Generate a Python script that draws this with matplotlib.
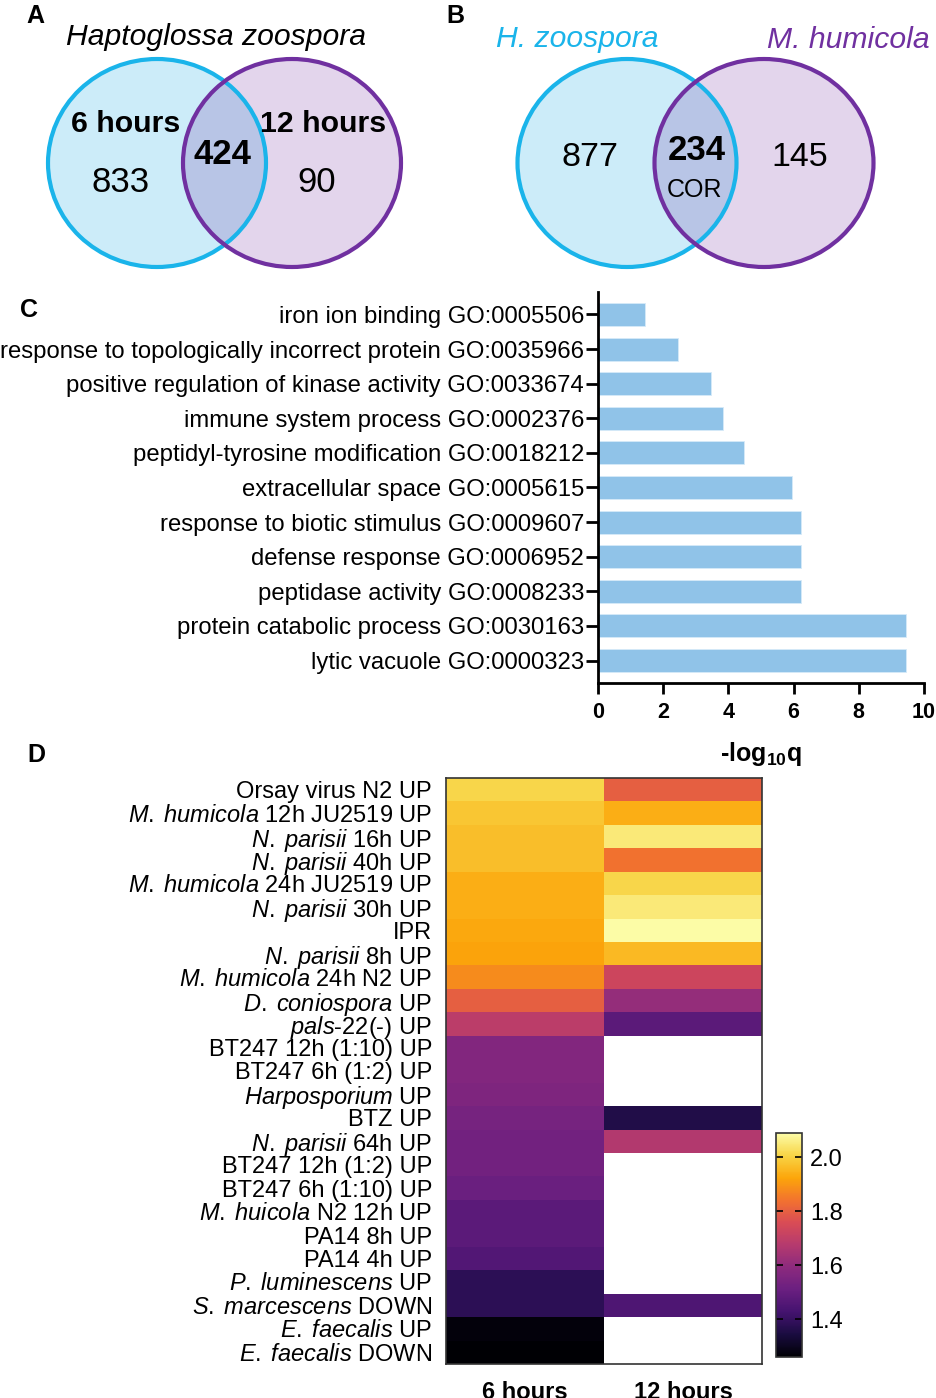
import numpy as np
import matplotlib
matplotlib.use('Agg')
import matplotlib.pyplot as plt
from matplotlib.patches import Ellipse
from matplotlib.colors import LinearSegmentedColormap

plt.rcParams['font.family'] = ['Liberation Sans', 'DejaVu Sans']
plt.rcParams['mathtext.fontset'] = 'custom'
plt.rcParams['mathtext.rm'] = 'Liberation Sans'
plt.rcParams['mathtext.it'] = 'Liberation Sans:italic'
plt.rcParams['mathtext.bf'] = 'Liberation Sans:bold'

# ---------------- data ----------------
venn_a_title = 'Haptoglossa zoospora'
venn_a_sets = ['6 hours', '12 hours']
venn_a_counts = [833, 424, 90]          # only 6h, both, only 12h

venn_b_sets = ['H. zoospora', 'M. humicola']
venn_b_counts = [877, 234, 145]         # only Hz, both (COR), only Mh
venn_b_overlap_name = 'COR'

go_terms = [
    'iron ion binding GO:0005506',
    'response to topologically incorrect protein GO:0035966',
    'positive regulation of kinase activity GO:0033674',
    'immune system process GO:0002376',
    'peptidyl-tyrosine modification GO:0018212',
    'extracellular space GO:0005615',
    'response to biotic stimulus GO:0009607',
    'defense response GO:0006952',
    'peptidase activity GO:0008233',
    'protein catabolic process GO:0030163',
    'lytic vacuole GO:0000323',
]
go_values = [1.43, 2.46, 3.46, 3.82, 4.49, 5.94, 6.22, 6.22, 6.22, 9.45, 9.45]

heat_rows = [
    r'Orsay virus N2 UP',
    r'$\mathit{M.\;humicola}$ 12h JU2519 UP',
    r'$\mathit{N.\;parisii}$ 16h UP',
    r'$\mathit{N.\;parisii}$ 40h UP',
    r'$\mathit{M.\;humicola}$ 24h JU2519 UP',
    r'$\mathit{N.\;parisii}$ 30h UP',
    r'IPR',
    r'$\mathit{N.\;parisii}$ 8h UP',
    r'$\mathit{M.\;humicola}$ 24h N2 UP',
    r'$\mathit{D.\;coniospora}$ UP',
    '$\\mathit{pals\u201022(\u2010)}$ UP',
    r'BT247 12h (1:10) UP',
    r'BT247 6h (1:2) UP',
    r'$\mathit{Harposporium}$ UP',
    r'BTZ UP',
    r'$\mathit{N.\;parisii}$ 64h UP',
    r'BT247 12h (1:2) UP',
    r'BT247 6h (1:10) UP',
    r'$\mathit{M.\;huicola}$ N2 12h UP',
    r'PA14 8h UP',
    r'PA14 4h UP',
    r'$\mathit{P.\;luminescens}$ UP',
    r'$\mathit{S.\;marcescens}$ DOWN',
    r'$\mathit{E.\;faecalis}$ UP',
    r'$\mathit{E.\;faecalis}$ DOWN',
]
heat_cols = ['6 hours', '12 hours']
heat_6h = [2.01, 1.98, 1.97, 1.97, 1.94, 1.94, 1.93, 1.92, 1.88, 1.80, 1.69,
           1.57, 1.57, 1.56, 1.54, 1.53, 1.53, 1.51, 1.48, 1.48, 1.46, 1.38,
           1.38, 1.27, 1.26]
heat_12h = [1.80, 1.94, 2.05, 1.84, 2.01, 2.05, 2.09, 1.96, 1.73, 1.61, 1.48,
            np.nan, np.nan, np.nan, 1.36, 1.67, np.nan, np.nan, np.nan, np.nan,
            np.nan, np.nan, 1.45, np.nan, np.nan]
heat_vmin, heat_vmax = 1.26, 2.09
cbar_ticks = [1.4, 1.6, 1.8, 2.0]

# ---------------- figure ----------------
W, H = 937, 1398
fig = plt.figure(figsize=(W / 100, H / 100), dpi=100)


def box(x0, y0, x1, y1):
    return [x0 / W, 1 - y1 / H, (x1 - x0) / W, (y1 - y0) / H]


def ftext(x, y, s, **kw):
    fig.text(x / W, 1 - y / H, s, ha='center', va='center', **kw)


CYAN = '#1ab4ea'
PURPLE = '#7030a0'
FILL_L = '#ccecf9'
FILL_R = '#e3d5ec'
FILL_O = '#b8c5e6'

# ---------------- Venn diagrams ----------------
axv = fig.add_axes(box(0, 0, W, 285))
axv.set_xlim(0, W)
axv.set_ylim(285, 0)
axv.axis('off')


def venn(cl, cr, w, h):
    axv.add_patch(Ellipse(cl, w, h, facecolor=FILL_L, edgecolor='none'))
    axv.add_patch(Ellipse(cr, w, h, facecolor=FILL_R, edgecolor='none'))
    clip = Ellipse(cr, w, h, facecolor='none', edgecolor='none')
    axv.add_patch(clip)
    ov = Ellipse(cl, w, h, facecolor=FILL_O, edgecolor='none')
    axv.add_patch(ov)
    ov.set_clip_path(clip)
    axv.add_patch(Ellipse(cl, w, h, facecolor='none', edgecolor=CYAN, lw=3))
    axv.add_patch(Ellipse(cr, w, h, facecolor='none', edgecolor=PURPLE, lw=3))


venn((157, 163), (292, 163), 218, 208)
venn((627, 163), (764, 163), 219, 208)

kw = dict(ha='center', va='center')
axv.text(216, 37, venn_a_title, style='italic', fontsize=21.7, **kw)
axv.text(126, 124, venn_a_sets[0], fontweight='bold', fontsize=21.8, **kw)
axv.text(323, 124, venn_a_sets[1], fontweight='bold', fontsize=21.8, **kw)
axv.text(121, 182, str(venn_a_counts[0]), fontsize=25, **kw)
axv.text(222, 155, str(venn_a_counts[1]), fontsize=25, fontweight='bold', **kw)
axv.text(317, 182, str(venn_a_counts[2]), fontsize=25, **kw)

axv.text(577, 39, venn_b_sets[0], style='italic', fontsize=21.7, color=CYAN, **kw)
axv.text(848, 40, venn_b_sets[1], style='italic', fontsize=21.7, color=PURPLE, **kw)
axv.text(590, 157, str(venn_b_counts[0]), fontsize=24.5, **kw)
axv.text(697, 150, str(venn_b_counts[1]), fontsize=25, fontweight='bold', **kw)
axv.text(695, 190, venn_b_overlap_name, fontsize=18, **kw)
axv.text(800, 157, str(venn_b_counts[2]), fontsize=24.5, **kw)

ftext(35, 16, 'A', fontsize=18, fontweight='bold')
ftext(455, 16, 'B', fontsize=18, fontweight='bold')

# ---------------- GO bar chart ----------------
axb = fig.add_axes(box(598, 292, 924, 683))
ypos = np.arange(len(go_terms))
axb.barh(ypos, go_values, height=0.66, color='#90c3e8', edgecolor='#d6eaf8', linewidth=0.6)
axb.set_ylim(len(go_terms) - 0.35, -0.65)
axb.set_xlim(0, 10)
axb.set_yticks(ypos)
axb.set_yticklabels(go_terms, fontsize=17.2)
axb.set_xticks([0, 2, 4, 6, 8, 10])
axb.set_xticklabels(['0', '2', '4', '6', '8', '10'], fontsize=15.5, fontweight='bold')
for s in ['top', 'right']:
    axb.spines[s].set_visible(False)
for s in ['left', 'bottom']:
    axb.spines[s].set_linewidth(2)
axb.tick_params(axis='y', length=9, width=2, pad=1)
axb.tick_params(axis='x', length=8, width=2, pad=6)
axb.set_xlabel(r'-log$_{\mathbf{10}}$q', fontsize=18, fontweight='bold', labelpad=12)

ftext(29, 310, 'C', fontsize=18, fontweight='bold')

# ---------------- heatmap ----------------
heat_cmap = LinearSegmentedColormap.from_list('heat', [
    (0.00, '#000004'), (0.10, '#1a0c40'), (0.20, '#44136f'), (0.30, '#6a1f80'),
    (0.40, '#8c2a7e'), (0.50, '#b53a6e'), (0.60, '#d94c55'), (0.70, '#f2722f'),
    (0.80, '#fca50a'), (0.90, '#f8d445'), (1.00, '#fcfca6')])
heat_cmap.set_bad('white')

axh = fig.add_axes(box(446, 778, 762, 1364))
data = np.ma.masked_invalid(np.column_stack([heat_6h, heat_12h]))
im = axh.imshow(data, cmap=heat_cmap, vmin=heat_vmin, vmax=heat_vmax, aspect='auto',
                interpolation='nearest')
axh.set_yticks(np.arange(len(heat_rows)))
axh.set_yticklabels(heat_rows, fontsize=17)
axh.set_xticks(np.arange(len(heat_cols)))
axh.set_xticklabels(heat_cols, fontsize=17, fontweight='bold')
axh.tick_params(axis='both', length=0)
axh.tick_params(axis='y', pad=10)
axh.tick_params(axis='x', pad=12)
for s in axh.spines.values():
    s.set_color('#333333')
    s.set_linewidth(1.2)

cax = fig.add_axes(box(776, 1133, 802, 1357))
cb = fig.colorbar(im, cax=cax, ticks=cbar_ticks)
cb.ax.set_yticklabels([f'{t:.1f}' for t in cbar_ticks], fontsize=17)
cb.ax.tick_params(axis='y', direction='in', left=True, right=True, length=5, width=1.2, pad=6)
cb.outline.set_linewidth(1.2)
cb.outline.set_edgecolor('#333333')

ftext(36, 755, 'D', fontsize=18, fontweight='bold')

fig.savefig('out.png', dpi=100)
